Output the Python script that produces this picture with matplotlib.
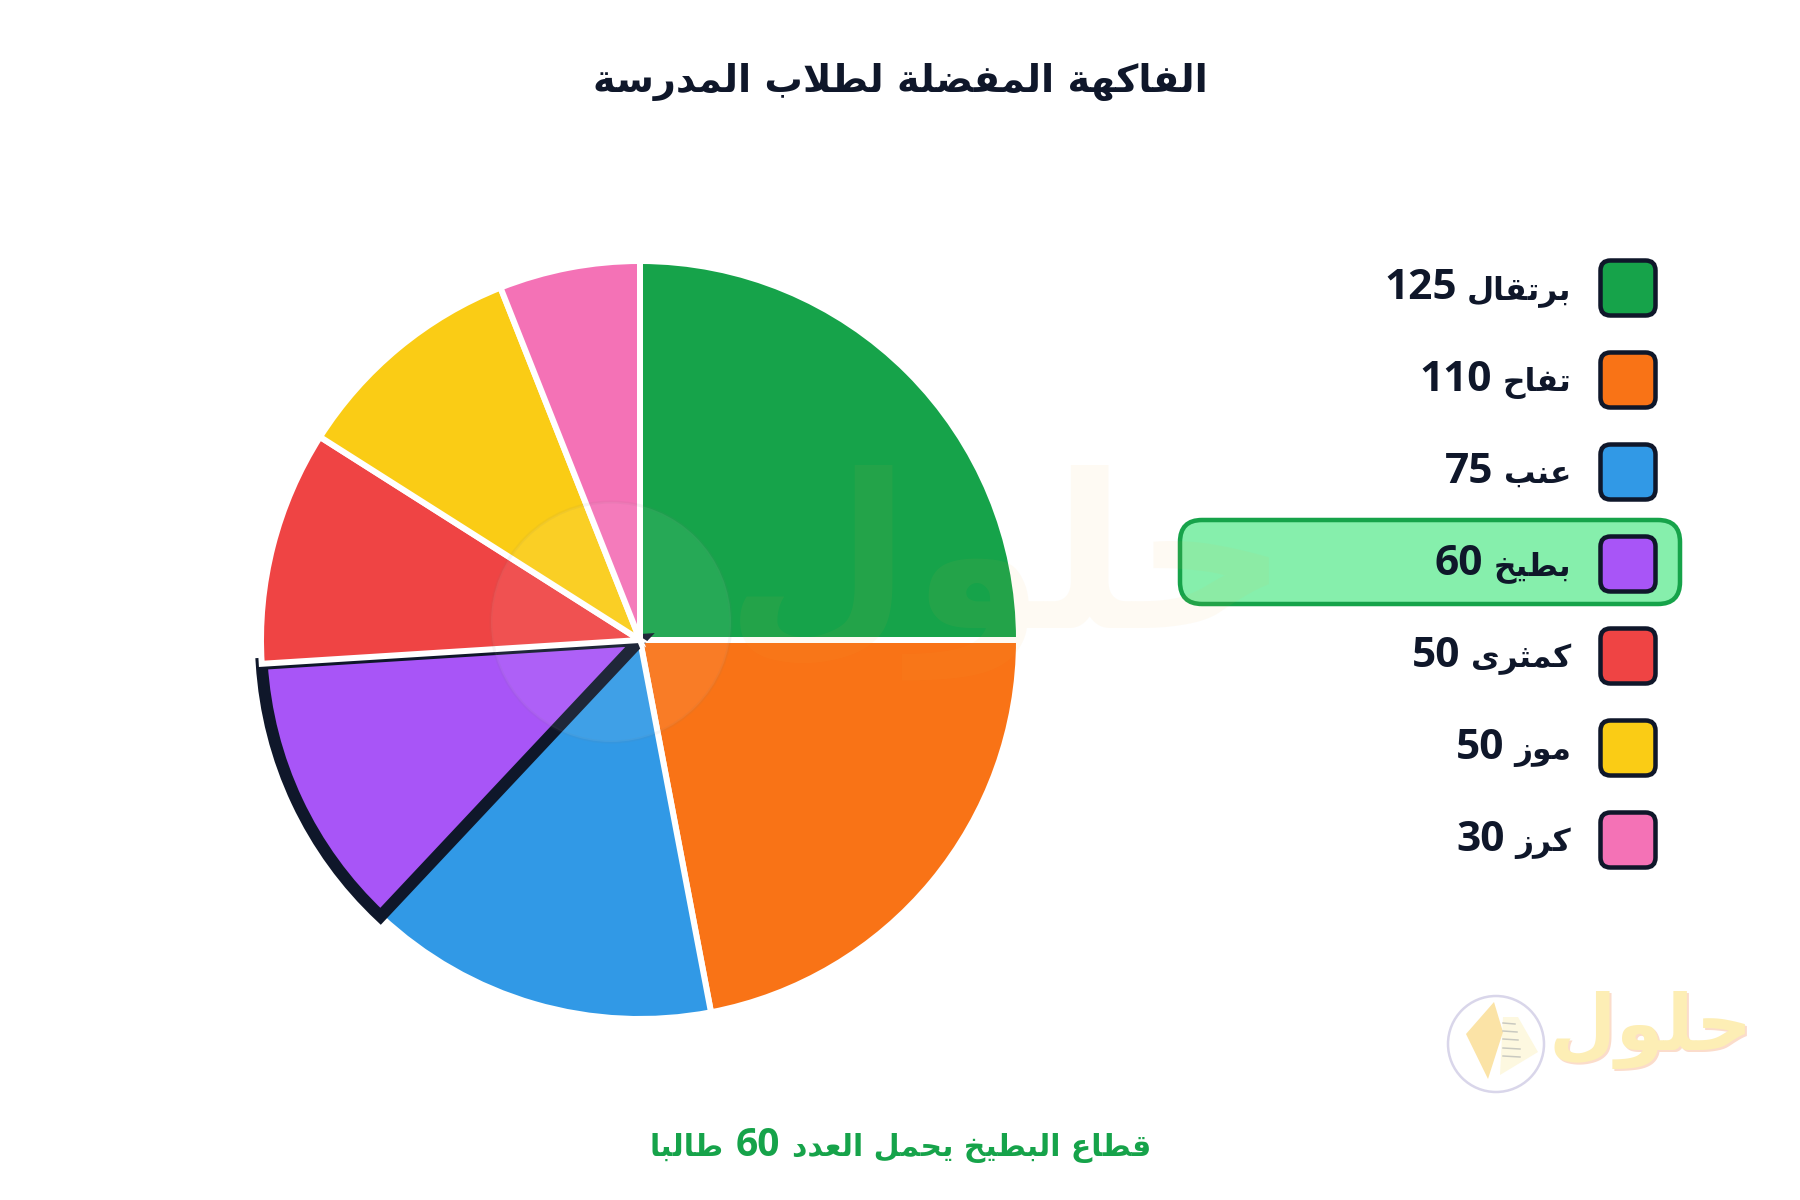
import re
import matplotlib
matplotlib.use('Agg')
import matplotlib.pyplot as plt
from matplotlib.patches import Circle, FancyBboxPatch, Polygon

fruits = ['برتقال', 'تفاح', 'عنب', 'بطيخ', 'كمثرى', 'موز', 'كرز']
students = [125, 110, 75, 60, 50, 50, 30]
colors = ['#16a34a', '#f97316', '#3199e6', '#a855f7', '#ef4444', '#facc15', '#f472b6']
title = 'الفاكهة المفضلة لطلاب المدرسة'
highlight = 3
footer_right = 'قطاع البطيخ يحمل العدد'
footer_left = 'طالبا'
logo = 'حلول'

dark = '#0f172a'
px = 72 / 100  # line widths are easier to think about in pixels

# matplotlib does no arabic shaping, so pick the presentation forms here
forms4 = {'ب': 0xFE8F, 'ت': 0xFE95, 'ث': 0xFE99, 'ج': 0xFE9D, 'ح': 0xFEA1, 'خ': 0xFEA5,
          'س': 0xFEB1, 'ش': 0xFEB5, 'ص': 0xFEB9, 'ض': 0xFEBD, 'ط': 0xFEC1, 'ظ': 0xFEC5,
          'ع': 0xFEC9, 'غ': 0xFECD, 'ف': 0xFED1, 'ق': 0xFED5, 'ك': 0xFED9, 'ل': 0xFEDD,
          'م': 0xFEE1, 'ن': 0xFEE5, 'ه': 0xFEE9, 'ي': 0xFEF1}
forms2 = {'ا': 0xFE8D, 'ة': 0xFE93, 'د': 0xFEA9, 'ذ': 0xFEAB, 'ر': 0xFEAD, 'ز': 0xFEAF,
          'و': 0xFEED, 'ى': 0xFEEF}


def shape_word(word):
    out = []
    i = 0
    prev_joins = False
    while i < len(word):
        c = word[i]
        if c == 'ل' and i + 1 < len(word) and word[i + 1] == 'ا':
            out.append(chr(0xFEFC if prev_joins else 0xFEFB))
            prev_joins = False
            i += 2
            continue
        next_ok = i + 1 < len(word)
        if c in forms4:
            base = forms4[c]
            if prev_joins and next_ok:
                out.append(chr(base + 3))
            elif prev_joins:
                out.append(chr(base + 1))
            elif next_ok:
                out.append(chr(base + 2))
            else:
                out.append(chr(base))
            prev_joins = next_ok
        else:
            out.append(chr(forms2[c] + (1 if prev_joins else 0)))
            prev_joins = False
        i += 1
    return ''.join(out)


def ar(text):
    # words right to left
    parts = [shape_word(p)[::-1] for p in text.split(' ')]
    return ' '.join(parts[::-1])


fig = plt.figure(figsize=(18, 12), dpi=100, facecolor='white')

# pie
cx, cy, r = 640, 640, 379
ax = fig.add_axes([(cx - r) / 1800, 1 - (cy + r) / 1200, 2 * r / 1800, 2 * r / 1200])
wedges, _ = ax.pie(students, colors=colors, startangle=90, counterclock=False, radius=1,
                   wedgeprops={'edgecolor': 'white', 'linewidth': 6 * px, 'clip_on': False})
wedges[highlight].set_edgecolor(dark)
wedges[highlight].set_linewidth(12 * px)
ax.set_xlim(-1, 1)
ax.set_ylim(-1, 1)

# everything else in pixel coordinates
top = fig.add_axes([0, 0, 1, 1], zorder=5)
top.set_xlim(0, 1800)
top.set_ylim(1200, 0)
top.axis('off')
top.patch.set_alpha(0)
renderer = fig.canvas.get_renderer()


def draw_run(x, y, pieces, color, gap, align='right'):
    # pieces go right to left, arabic and digits get their own size
    items = []
    for s, size, family in pieces:
        t = top.text(x, y, s, fontsize=size, fontweight='bold', color=color, family=family,
                     ha='right', va='baseline')
        items.append((t, t.get_window_extent(renderer).width))
    total = sum(w for t, w in items) + gap * (len(items) - 1)
    pos = x + total / 2 if align == 'center' else x
    for t, w in items:
        t.set_x(pos)
        pos -= w + gap


draw_run(900, 92, [(ar(title), 27.5, 'DejaVu Sans')], dark, 0, 'center')
draw_run(900, 1156, [(ar(footer_right), 21.5, 'DejaVu Sans'),
                     (str(students[highlight]), 28, 'Open Sans'),
                     (ar(footer_left), 21.5, 'DejaVu Sans')], '#16a34a', 12, 'center')

# legend
top.add_patch(FancyBboxPatch((1180, 520), 500, 84, boxstyle='round,pad=0,rounding_size=22',
                             facecolor='#86efac', edgecolor='#16a34a', linewidth=4.5 * px))
for i in range(len(fruits)):
    y = 288 + 92 * i
    top.add_patch(FancyBboxPatch((1600.5, y - 27.5), 55, 55, boxstyle='round,pad=0,rounding_size=10',
                                 facecolor=colors[i], edgecolor=dark, linewidth=4.5 * px))
    draw_run(1571, y + 11, [(ar(fruits[i]), 22.5, 'DejaVu Sans'),
                            (str(students[i]), 30.5, 'Open Sans')], dark, 10)

# big watermark
top.add_patch(Circle((611, 622), 120, facecolor='white', edgecolor='#777777', alpha=0.07, linewidth=3 * px))
top.text(1007, 572, ar(logo), fontsize=155, fontweight='bold', color='#f5b342', alpha=0.06,
         family='DejaVu Sans', ha='center', va='center')

# small logo bottom right
top.add_patch(Circle((1496, 1044), 48, facecolor='white', edgecolor='#d9d6ea', linewidth=2.5 * px))
top.add_patch(Polygon([[1503, 1017], [1518, 1017], [1538, 1052], [1500, 1075]], facecolor='#fdf8e0', edgecolor='none'))
for ly, lx in zip([1023, 1031, 1039, 1048, 1056], [1515, 1517, 1518, 1520, 1520]):
    top.plot([1503, lx], [ly, ly + 1], color='#c9c9c0', lw=1.5 * px)
top.add_patch(Polygon([[1494, 1002], [1503, 1032], [1488, 1079], [1466, 1034]], facecolor='#fbe3a6', edgecolor='none'))
top.text(1653, 1032, ar(logo), fontsize=56, fontweight='bold', color='#fbdccb',
         family='DejaVu Sans', ha='center', va='center')
top.text(1651, 1030, ar(logo), fontsize=56, fontweight='bold', color='#fdeeb5',
         family='DejaVu Sans', ha='center', va='center')

fig.savefig('out.png', dpi=100)
